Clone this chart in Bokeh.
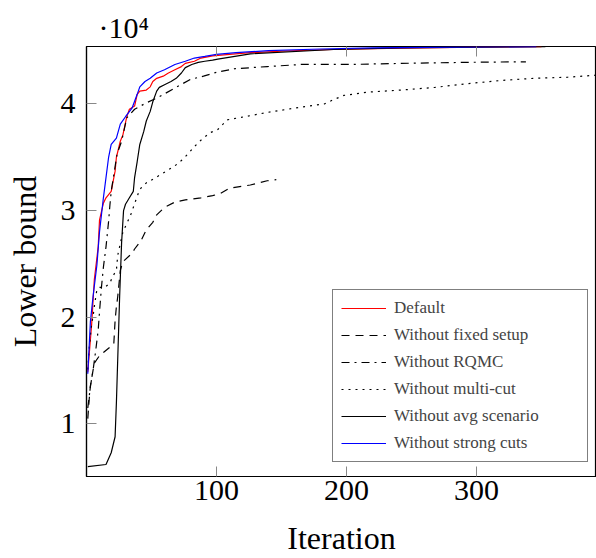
from bokeh.plotting import figure
from bokeh.models import Range1d, FixedTicker, LinearAxis, Legend, LegendItem, Title
from bokeh.embed import file_html
from bokeh.resources import INLINE

FONT = "Liberation Serif"

# ---- data ----
x_ticks = [100, 200, 300]
y_ticks = [10000, 20000, 30000, 40000]
y_tick_labels = {10000: "1", 20000: "2", 30000: "3", 40000: "4"}

default_x = [1, 4, 6, 9, 10, 13, 15, 19, 22, 23, 26, 28, 31, 33, 37, 39, 41, 46, 49, 51,
             54, 59, 63, 68, 73, 76, 83, 88, 97, 110, 126, 150, 190, 242, 300, 350]
default_y = [14900, 19400, 23500, 26600, 29100, 30700, 31200, 31800, 33700, 35000,
             36500, 37100, 38800, 39500, 39800, 40900, 41200, 41300, 41600, 42100,
             42400, 42600, 42900, 43200, 43500, 43800, 44000, 44300, 44500, 44650,
             44800, 44950, 45100, 45230, 45320, 45370]

fixed_x = [1, 2, 3, 5, 6, 10, 13, 17, 21, 22, 23, 24, 26, 28, 35, 37, 42, 46, 51, 54,
           60, 68, 76, 88, 97, 103, 110, 126, 139, 146]
fixed_y = [10500, 12200, 13600, 15000, 15700, 16400, 16700, 17100, 17500, 19700,
           21000, 21900, 24400, 25200, 26000, 26400, 27200, 28200, 28900, 29600,
           30300, 30800, 31000, 31200, 31400, 31600, 32100, 32400, 32800, 32900]

rqmc_x = [1, 3, 5, 7, 9, 10, 11.5, 13, 15, 17, 18, 19, 23.5, 27, 31, 37, 46, 55, 68, 80,
          90, 101, 114, 139, 165, 203, 242, 293, 338]
rqmc_y = [11500, 13500, 15000, 16800, 18800, 20500, 22800, 24700, 26600, 29000,
          30500, 31800, 35300, 36500, 38700, 39500, 40100, 40600, 41500, 42300,
          42600, 43000, 43300, 43500, 43700, 43700, 43800, 43900, 43950]

multicut_x = [1, 2, 4, 5, 6, 8, 10, 14, 18, 20, 23, 24, 28, 31, 34, 38, 41, 46, 52, 60,
              68, 73, 78, 83, 88, 95, 101, 105, 108, 126, 139, 165, 183, 190, 198, 216,
              242, 268, 293, 319, 344, 370, 393]
multicut_y = [15100, 17000, 19500, 20000, 21000, 22600, 22800, 22800, 23200, 23800,
              24400, 25800, 28000, 28800, 29600, 31000, 32000, 32600, 33000, 33600,
              34200, 34700, 35300, 36000, 36600, 37300, 37600, 38100, 38500, 38900,
              39200, 39700, 40000, 40400, 40800, 41100, 41300, 41550, 41900, 42200,
              42400, 42500, 42700]

avg_x = [1, 15, 19, 22, 23, 24, 25.5, 27, 28.5, 30, 33, 36, 37, 39, 41, 44, 46, 49, 51, 54,
         56, 60, 65, 69, 73, 76, 81, 86, 91, 97, 101, 126, 190, 242, 300, 353]
avg_y = [6000, 6200, 7300, 8800, 12000, 16000, 22000, 27000, 30000, 30600,
         31200, 31800, 33100, 34600, 36200, 37400, 38400, 39300, 40200, 41200,
         41550, 41800, 42100, 42400, 42900, 43400, 43700, 43900, 44000, 44100,
         44200, 44700, 45100, 45250, 45330, 45370]

strong_x = [1, 3, 5, 8, 10, 13, 17, 19, 23, 26, 30, 35, 39, 41, 45, 49, 54, 60, 68, 76,
            83, 91, 100, 115, 140, 180, 220, 280, 346]
strong_y = [14700, 19600, 21900, 24900, 28000, 31200, 35000, 36200, 36800, 38100,
            38800, 39600, 40900, 41600, 42100, 42400, 42900, 43200, 43700, 44000,
            44300, 44450, 44650, 44800, 45000, 45150, 45250, 45330, 45370]

series = [
    ("Default", default_x, default_y, "#ff0000", "solid"),
    ("Without fixed setup", fixed_x, fixed_y, "#000000", "8 6"),
    ("Without RQMC", rqmc_x, rqmc_y, "#000000", "8 5 2 5"),
    ("Without multi-cut", multicut_x, multicut_y, "#000000", "2 5"),
    ("Without avg scenario", avg_x, avg_y, "#000000", "solid"),
    ("Without strong cuts", strong_x, strong_y, "#0000ff", "solid"),
]

p = figure(width=596, height=558, output_backend="svg", toolbar_location=None,
           x_range=Range1d(0, 392.3), y_range=Range1d(5075, 45383),
           min_border_left=86, min_border_right=0, min_border_top=46, min_border_bottom=81)

p.xgrid.visible = False
p.ygrid.visible = False
p.outline_line_color = "black"
p.outline_line_width = 1.2
p.background_fill_color = "white"
p.border_fill_color = "white"

items = []
for name, xs, ys, color, dash in series:
    r = p.line(xs, ys, line_color=color, line_width=1.2, line_dash=dash)
    items.append(LegendItem(label=name, renderers=[r]))

# axes
xa = p.xaxis[0]
xa.ticker = FixedTicker(ticks=x_ticks)
xa.axis_label = "Iteration"
ya = p.yaxis[0]
ya.ticker = FixedTicker(ticks=y_ticks)
ya.major_label_overrides = y_tick_labels
ya.axis_label = "Lower bound"

for ax in (xa, ya):
    ax.axis_line_color = "black"
    ax.axis_line_width = 1.2
    ax.major_tick_in = 10
    ax.major_tick_out = 0
    ax.major_tick_line_color = "#888888"
    ax.major_tick_line_width = 1
    ax.minor_tick_line_color = None
    ax.major_label_text_font = FONT
    ax.major_label_text_font_size = "30px"
    ax.major_label_text_color = "black"
    ax.axis_label_text_font = FONT
    ax.axis_label_text_font_size = "32px"
    ax.axis_label_text_font_style = "normal"
    ax.axis_label_text_color = "black"

xa.major_label_standoff = 4
xa.axis_label_standoff = 17
ya.major_label_standoff = 11
ya.axis_label_standoff = 15

top = LinearAxis(ticker=FixedTicker(ticks=x_ticks), major_tick_in=10, major_tick_out=0,
                 major_tick_line_color="#888888", minor_tick_line_color=None,
                 axis_line_color=None, major_label_text_font_size="1px",
                 major_label_text_alpha=0, major_label_standoff=0)
p.add_layout(top, "above")

# scale factor "·10^4"
p.title = Title(text="·10⁴", text_font=FONT, text_font_size="30px",
                text_font_style="normal", text_color="black",
                align="left", offset=12, standoff=6)

legend = Legend(items=items, location=(246, 14), padding=8, spacing=7,
                glyph_width=45, glyph_height=20, label_height=20, label_width=185,
                label_standoff=8, margin=0,
                label_text_font=FONT, label_text_font_size="17px",
                border_line_color="black", border_line_width=1,
                background_fill_color="white", background_fill_alpha=1)
p.add_layout(legend, "center")

open("out.html", "w").write(file_html(p, INLINE))
